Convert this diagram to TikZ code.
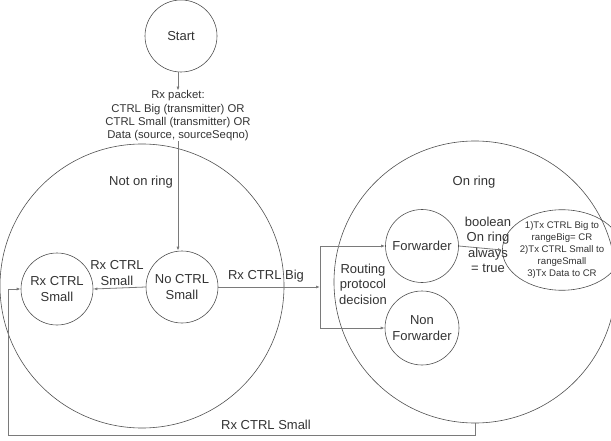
\documentclass[tikz,border=0pt]{standalone}
\usepackage{fontspec}
\setmainfont{Liberation Sans}
\usetikzlibrary{arrows.meta,shapes.geometric}
\definecolor{ringgray}{HTML}{505050}
\definecolor{wiregray}{HTML}{7A7A7A}
\definecolor{textgray}{HTML}{333333}

\begin{document}
\begin{tikzpicture}[x=1pt, y=-1pt,
		state/.style={draw=ringgray, line width=0.6pt, circle, inner sep=1pt, align=center, text=textgray, font=\fontsize{13}{15.5}\selectfont},
		ring/.style={draw=ringgray, line width=0.6pt, circle},
		wire/.style={draw=wiregray, line width=0.8pt, -{Latex[length=4pt,width=3pt]}},
		lbl/.style={inner sep=0pt, align=center, text=textgray, font=\fontsize{13}{15.5}\selectfont}]
		%%%%% START %%%%%
		
		\useasboundingbox (0, 0) rectangle (611, 441);
		
		\node[ring, minimum size=284pt] (notring) at (142, 286) {};
		\node[ring, minimum size=282pt] (onring) at (475, 282) {};
		\node[lbl] (notringlbl) at (141, 182) {Not on ring};
		\node[lbl] (onringlbl) at (474, 182) {On ring};
		
		\node[state, minimum size=72pt] (start) at (181, 36) {Start};
		\node[lbl, font=\fontsize{11.3}{13.3}\selectfont] (rxpkt) at (178, 116) {Rx packet:\\CTRL Big (transmitter) OR\\CTRL Small (transmitter) OR\\Data (source, sourceSeqno)};
		
		\node[state, minimum size=72pt] (rxsmall) at (57, 289) {Rx CTRL\\Small};
		\node[state, minimum size=72pt] (nosmall) at (182, 287) {No CTRL\\Small};
		
		\node[state, minimum size=73pt] (fwd) at (422, 246) {Forwarder};
		\node[state, minimum size=74pt] (nonfwd) at (422, 328) {Non\\Forwarder};
		\node[draw=ringgray, line width=0.6pt, ellipse, minimum width=89pt, minimum height=77pt, inner sep=0pt, align=center, text=textgray, font=\fontsize{9.6}{12}\selectfont] (action) at (562, 250) {1)Tx CTRL Big to\\rangeBig= CR\\2)Tx CTRL Small to\\rangeSmall\\3)Tx Data to CR};
		
		\coordinate (split) at (320, 287);
		\coordinate (splittop) at (320, 246);
		\coordinate (splitbot) at (320, 328);
		\coordinate (loopcorner) at (8, 435);
		
		\draw[wire] (rxpkt.north |- start.south) -- (rxpkt.north);
		\draw[wire] (rxpkt.south) -- (rxpkt.south |- nosmall.north);
		\draw[wire] (nosmall.west) -- (rxsmall.east);
		\draw[wire] (nosmall.east) -- (split);
		\draw[draw=wiregray, line width=0.8pt] (splittop) -- (splitbot);
		\draw[wire] (splittop) -- (fwd.west);
		\draw[wire] (splitbot) -- (nonfwd.west);
		\draw[wire] (fwd.east) -- (action.west);
		\draw[wire] (onring.south) |- (loopcorner) |- (rxsmall.west);
		
		\node[lbl] (smalllbl) at (117, 273) {Rx CTRL\\Small};
		\node[lbl] (biglbl) at (266, 276) {Rx CTRL Big};
		\node[lbl] (routelbl) at (363, 284) {Routing\\protocol\\decision};
		\node[lbl] (boollbl) at (488, 245) {boolean\\On ring\\always\\= true};
		\node[lbl] (looplbl) at (266, 425) {Rx CTRL Small};
		
		%%%%% END %%%%%
	\end{tikzpicture}
\end{document}
